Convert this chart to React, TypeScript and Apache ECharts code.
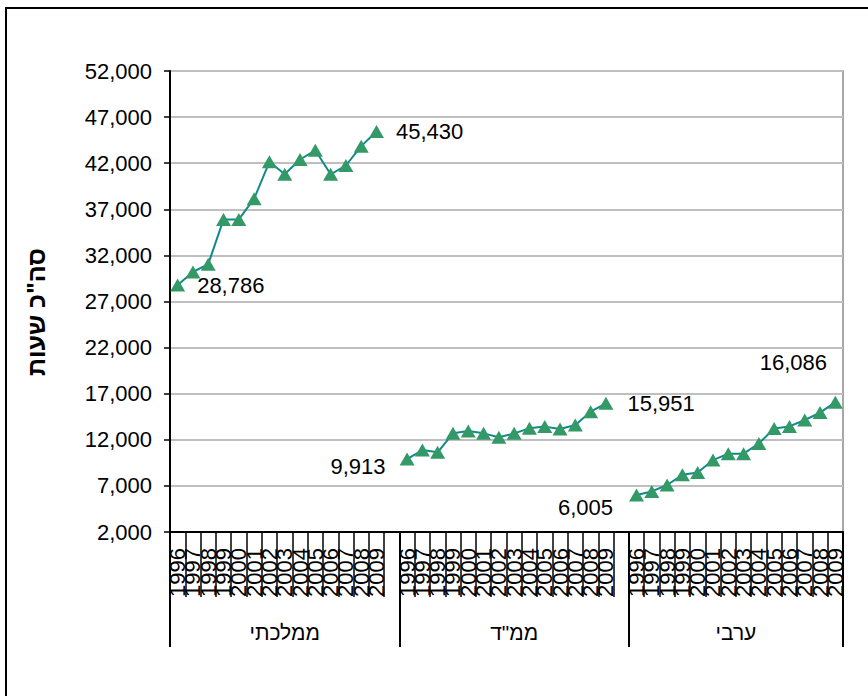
import React, { useEffect, useRef } from "react";
import * as echarts from "echarts";

const years = ["1996", "1997", "1998", "1999", "2000", "2001", "2002", "2003", "2004", "2005", "2006", "2007", "2008", "2009"];
const groups = ["ממלכתי", 'ממ"ד', "ערבי"];
const mamlachti = [28786, 30200, 31050, 35900, 35900, 38150, 42150, 40800, 42400, 43400, 40800, 41750, 43850, 45430];
const mamad = [9913, 10890, 10640, 12700, 12950, 12700, 12270, 12700, 13240, 13430, 13170, 13600, 15050, 15951];
const aravi = [6005, 6400, 7100, 8200, 8450, 9800, 10500, 10500, 11600, 13230, 13450, 14150, 14950, 16086];
const yTicks = [2000, 7000, 12000, 17000, 22000, 27000, 32000, 37000, 42000, 47000, 52000];
const yTitle = 'סה"כ שעות';

const FONT = "'Liberation Sans', Arial, sans-serif";

export default function App() {
  const ref = useRef<HTMLDivElement>(null);
  useEffect(() => {
    if (!ref.current) return;
    const chart = echarts.init(ref.current, undefined, { renderer: "svg" });

    const cats = [...years, "", ...years, "", ...years];
    const values: (number | null)[] = [...mamlachti, null, ...mamad, null, ...aravi];

    const labelCfg: Record<number, any> = {
      0: { show: true, position: "right", distance: 12 },
      13: { show: true, position: "right", distance: 12 },
      15: { show: true, position: "left", distance: 14, offset: [0, 7] },
      28: { show: true, position: "right", distance: 14 },
      30: { show: true, position: "left", distance: 16, offset: [0, 12] },
      43: { show: true, position: "top", distance: 22, offset: [-42, 0] },
    };
    const seriesData = values.map((v, i) =>
      labelCfg[i] ? { value: v, label: labelCfg[i] } : v
    );

    const n = cats.length;
    const half: string[] = new Array(n * 2 + 1).fill("");
    const g1Start = 0, g2Start = years.length + 1, g3Start = 2 * (years.length + 1);
    half[g1Start + g2Start] = groups[0];
    half[g2Start + g3Start] = groups[1];
    half[g3Start + n] = groups[2];
    const boundaries = [0, g2Start * 2, g3Start * 2, n * 2];

    const txt = { fontFamily: FONT, fontSize: 22, color: "#000" };

    chart.setOption({
      animation: false,
      textStyle: { fontFamily: FONT },
      grid: {
        left: 170,
        top: 71,
        right: 25,
        bottom: 164,
        show: true,
        borderColor: "#8a8a8a",
        borderWidth: 1.5,
        containLabel: false,
      },
      xAxis: [
        {
          type: "category",
          data: cats,
          boundaryGap: true,
          position: "bottom",
          axisLine: { show: true, lineStyle: { color: "#000", width: 2 } },
          axisTick: { show: true, interval: 0, length: 65, lineStyle: { color: "#000", width: 1.5 } },
          axisLabel: { ...txt, interval: 0, rotate: 90, margin: 16 },
          splitLine: { show: false },
        },
        {
          type: "category",
          data: half,
          boundaryGap: false,
          position: "bottom",
          offset: 0,
          axisLine: { show: false },
          axisTick: {
            show: true,
            interval: (i: number) => boundaries.includes(i),
            length: 115,
            lineStyle: { color: "#000", width: 2 },
          },
          axisLabel: { ...txt, fontSize: 21, interval: 0, margin: 90 },
          splitLine: { show: false },
        },
      ],
      yAxis: {
        type: "value",
        min: 2000,
        max: 52000,
        axisLine: { show: true, lineStyle: { color: "#000", width: 2 } },
        axisTick: { show: true, inside: false, length: 6, customValues: yTicks, lineStyle: { color: "#000", width: 1.5 } },
        axisLabel: {
          ...txt,
          margin: 18,
          customValues: yTicks,
          formatter: (v: number) => v.toLocaleString("en-US"),
        },
        splitLine: { show: true, customValues: yTicks, lineStyle: { color: "#bfbfbf", width: 2 } },
      },
      series: [
        {
          type: "line",
          data: seriesData,
          connectNulls: false,
          symbol: "triangle",
          symbolSize: [15, 13],
          lineStyle: { color: "#11898b", width: 2 },
          itemStyle: { color: "#339966" },
          label: { show: false, ...txt, formatter: (p: any) => Number(p.value).toLocaleString("en-US") },
          emphasis: { disabled: true },
        },
      ],
      graphic: [
        {
          type: "rect",
          x: 6,
          y: 8,
          shape: { width: 900, height: 800 },
          style: { fill: "none", stroke: "#000", lineWidth: 2 },
          silent: true,
        },
        {
          type: "text",
          x: 36,
          y: 312,
          rotation: Math.PI / 2,
          style: {
            text: yTitle,
            fontFamily: FONT,
            fontSize: 25,
            fontWeight: "bold",
            fill: "#000",
            align: "center",
            verticalAlign: "middle",
          },
        },
      ],
    });
    return () => chart.dispose();
  }, []);
  return (
    <div
      ref={ref}
      style={{ position: "absolute", left: 0, top: 0, width: 868, height: 696, background: "#fff" }}
    />
  );
}
